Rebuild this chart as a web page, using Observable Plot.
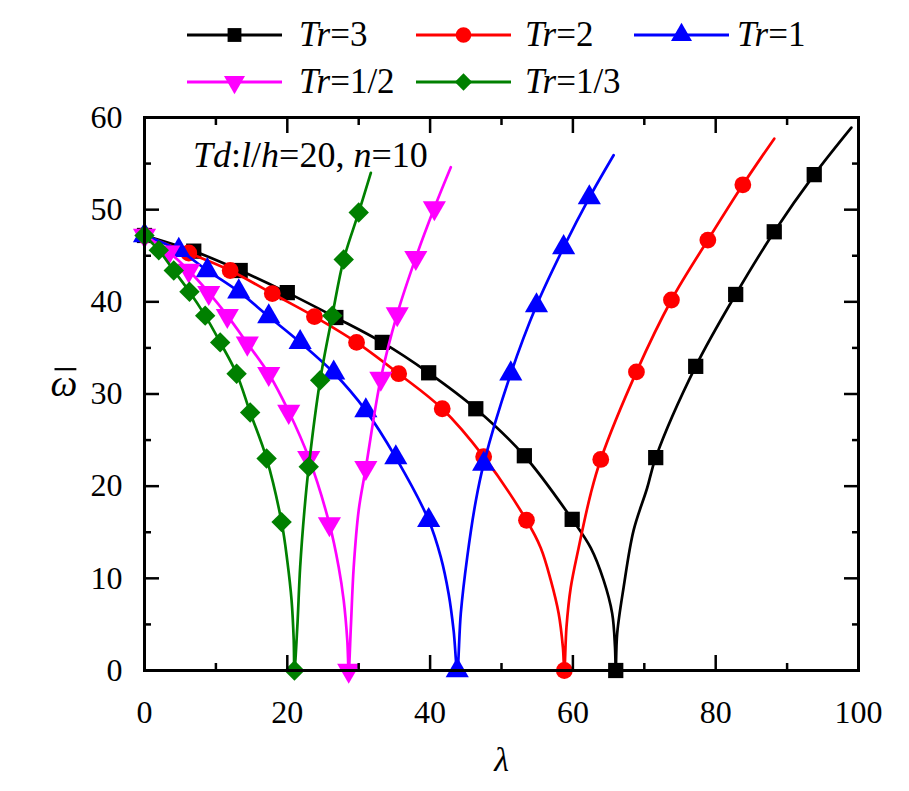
<!DOCTYPE html>
<html><head><meta charset="utf-8">
<script src="https://cdn.jsdelivr.net/npm/d3@7"></script>
<script src="https://cdn.jsdelivr.net/npm/@observablehq/plot@0.6"></script>
<style>
body{margin:0;background:#fff;font-family:"Liberation Serif","Times New Roman",Times,Tinos,"DejaVu Serif",serif;}
#wrap{width:909px;}
#legend{position:relative;width:909px;height:100px;}
.item{position:absolute;height:40px;}
.item svg{position:absolute;left:0;top:0;}
.item .lab{position:absolute;top:0;height:40px;line-height:40px;font-size:35px;white-space:nowrap;color:#000;}
#chart svg text{font-family:"Liberation Serif","Times New Roman",Times,Tinos,"DejaVu Serif",serif;}
</style></head><body><div id="wrap"><div id="legend"></div><div id="chart"></div></div>
<script>
// ---- data ----
const seriesNames = ["3", "2", "1", "1/2", "1/3"];
const seriesColors = ["#000000", "#ff0000", "#0000ff", "#ff00ff", "#008000"];

// Tr=3 (markers)
const tr3Lambda = [0, 6.9, 13.4, 20.0, 26.8, 33.3, 39.8, 46.4, 53.2, 59.9, 66.0, 71.6, 77.2, 82.8, 88.2, 93.8];
const tr3Omega  = [47.2, 45.5, 43.4, 41.0, 38.3, 35.6, 32.3, 28.4, 23.3, 16.4, 0, 23.1, 33.0, 40.8, 47.6, 53.8];
// Tr=3 (extra curve points read between markers)
const tr3CurveLambda = [62.5, 64.3, 65.5, 65.9, 66.2, 67.1, 68.5, 70.4, 99.0];
const tr3CurveOmega  = [13.3, 9.8, 6.2, 2.5, 4.0, 9.0, 15.2, 19.8, 58.9];

// Tr=2
const tr2Lambda = [0, 6.2, 12.0, 17.9, 23.8, 29.7, 35.6, 41.7, 47.5, 53.5, 58.8, 63.9, 68.9, 73.8, 78.9, 83.8];
const tr2Omega  = [47.2, 45.3, 43.4, 40.9, 38.4, 35.6, 32.2, 28.4, 23.2, 16.3, 0, 22.9, 32.4, 40.2, 46.7, 52.7];
const tr2CurveLambda = [55.5, 56.9, 58.0, 58.6, 59.1, 59.7, 60.8, 62.5, 88.2];
const tr2CurveOmega  = [13.3, 9.8, 6.2, 2.5, 4.7, 9.0, 13.3, 19.2, 57.7];

// Tr=1
const tr1Lambda = [0, 4.8, 8.8, 13.2, 17.4, 21.8, 26.5, 31.0, 35.2, 39.8, 43.8, 47.5, 51.3, 54.9, 58.7, 62.3];
const tr1Omega  = [47.2, 45.6, 43.4, 41.1, 38.4, 35.6, 32.3, 28.2, 23.1, 16.3, 0, 22.4, 32.2, 39.6, 45.9, 51.3];
const tr1CurveLambda = [41.5, 42.6, 43.3, 44.3, 45.2, 46.4, 65.7];
const tr1CurveOmega  = [12.3, 8.3, 4.3, 6.2, 12.3, 18.4, 55.9];

// Tr=1/2
const tr12Lambda = [0, 3.4, 6.2, 9.0, 11.6, 14.4, 17.4, 20.2, 23.0, 25.9, 28.6, 31.0, 33.1, 35.4, 38.0, 40.6];
const tr12Omega  = [47.2, 45.4, 43.4, 41.0, 38.5, 35.5, 32.2, 28.1, 23.1, 15.9, 0, 22.0, 31.7, 38.7, 44.8, 50.2];
const tr12CurveLambda = [27.2, 27.9, 28.4, 28.9, 29.3, 30.0, 42.9];
const tr12CurveOmega  = [11.2, 7.6, 3.3, 4.7, 11.2, 17.4, 54.6];

// Tr=1/3
const tr13Lambda = [0, 2.0, 4.1, 6.3, 8.5, 10.6, 12.9, 14.8, 17.1, 19.2, 21.0, 23.0, 24.6, 26.3, 27.9, 30.0];
const tr13Omega  = [47.2, 45.6, 43.4, 41.1, 38.5, 35.6, 32.2, 28.0, 23.0, 16.1, 0, 22.1, 31.5, 38.5, 44.6, 49.7];
const tr13CurveLambda = [20.0, 20.6, 20.9, 21.4, 21.8, 22.4, 31.7];
const tr13CurveOmega  = [11.9, 7.6, 3.3, 4.7, 11.2, 17.4, 54.0];

// axis ticks
const xMajor = [0, 20, 40, 60, 80, 100];
const xMinor = [10, 30, 50, 70, 90];
const yMajor = [0, 10, 20, 30, 40, 50, 60];
const yMinor = [5, 15, 25, 35, 45, 55];

const serif = "'Liberation Serif', 'Times New Roman', Times, Tinos, 'DejaVu Serif', serif";

// ---- build ----
const triangleDown = {
  draw(context, size) {
    const y = -Math.sqrt(size / (Math.sqrt(3) * 3));
    context.moveTo(0, -y * 2);
    context.lineTo(-Math.sqrt(3) * y, y);
    context.lineTo(Math.sqrt(3) * y, y);
    context.closePath();
  }
};
const symbols = ["square", "circle", "triangle", triangleDown, "diamond2"];
const symbolR = [8.6, 8.4, 8.6, 8.6, 9.2];
const markerLam = [tr3Lambda, tr2Lambda, tr1Lambda, tr12Lambda, tr13Lambda];
const markerOm = [tr3Omega, tr2Omega, tr1Omega, tr12Omega, tr13Omega];
const curveLam = [tr3CurveLambda, tr2CurveLambda, tr1CurveLambda, tr12CurveLambda, tr13CurveLambda];
const curveOm = [tr3CurveOmega, tr2CurveOmega, tr1CurveOmega, tr12CurveOmega, tr13CurveOmega];

const marks = [];
seriesNames.forEach((name, i) => {
  const pts = markerLam[i].map((l, j) => ({lambda: l, omega: markerOm[i][j]}));
  const curve = pts.concat(curveLam[i].map((l, j) => ({lambda: l, omega: curveOm[i][j]})))
    .sort((a, b) => a.lambda - b.lambda);
  marks.push(Plot.line(curve, {x: "lambda", y: "omega", stroke: seriesColors[i], strokeWidth: 2.7, curve: "catmull-rom"}));
  marks.push(Plot.dot(pts, {x: "lambda", y: "omega", symbol: symbols[i], r: symbolR[i], fill: seriesColors[i], stroke: "none"}));
});

const chart = Plot.plot({
  width: 909,
  height: 691,
  marginLeft: 144,
  marginRight: 51,
  marginTop: 17,
  marginBottom: 121,
  style: {fontFamily: serif, color: "#000", background: "#fff", overflow: "visible"},
  x: {domain: [0, 100]},
  y: {domain: [0, 60]},
  marks: [
    ...marks,
    Plot.frame({stroke: "#000", strokeWidth: 3}),
    Plot.axisX(xMajor, {anchor: "bottom", tickSize: -15, strokeWidth: 2.5, fill: "none", label: null}),
    Plot.axisX(xMinor, {anchor: "bottom", tickSize: -7, strokeWidth: 2.5, fill: "none", label: null}),
    Plot.axisX(xMajor, {anchor: "top", tickSize: -15, strokeWidth: 2.5, fill: "none", label: null}),
    Plot.axisX(xMinor, {anchor: "top", tickSize: -7, strokeWidth: 2.5, fill: "none", label: null}),
    Plot.axisY(yMajor, {anchor: "left", tickSize: -15, strokeWidth: 2.5, fill: "none", label: null}),
    Plot.axisY(yMinor, {anchor: "left", tickSize: -7, strokeWidth: 2.5, fill: "none", label: null}),
    Plot.axisY(yMajor, {anchor: "right", tickSize: -15, strokeWidth: 2.5, fill: "none", label: null}),
    Plot.axisY(yMinor, {anchor: "right", tickSize: -7, strokeWidth: 2.5, fill: "none", label: null}),
    Plot.axisX(xMajor, {anchor: "bottom", tickSize: 0, tickPadding: 30, fontSize: 32, label: null, tickFormat: d => String(d)}),
    Plot.axisY(yMajor, {anchor: "left", tickSize: 0, tickPadding: 22, fontSize: 32, label: null, tickFormat: d => String(d)}),
    Plot.text(["λ"], {frameAnchor: "bottom", dy: 100, text: d => d, fontSize: 34, fontStyle: "italic"}),
    Plot.text(["ω"], {frameAnchor: "left", dx: -94, dy: -10, text: d => d, fontSize: 38, fontStyle: "italic"})
  ]
});

const svg = d3.select(chart);

// annotation
const ann = svg.append("text").attr("x", 193).attr("y", 67)
  .attr("font-size", 36).attr("fill", "#000").attr("text-anchor", "start")
  .attr("font-family", serif);
[["Td", true], [":", false], ["l", true], ["/", false], ["h", true], ["=20, ", false], ["n", true], ["=10", false]]
  .forEach(([t, it]) => ann.append("tspan").attr("font-style", it ? "italic" : "normal").text(t));

document.getElementById("chart").appendChild(chart);

// overline for the omega axis title, placed in the same coordinate frame as its text
svg.selectAll("text").filter(function() { return this.textContent === "ω"; }).each(function() {
  const b = this.getBBox();
  d3.select(this.parentNode).append("path")
    .attr("transform", this.getAttribute("transform"))
    .attr("d", `M${b.x + 4},${b.y + 7}H${b.x + b.width - 1}`)
    .attr("stroke", "#000").attr("stroke-width", 2.2).attr("fill", "none");
});

// legend
const legendPos = [[187, 15], [416, 15], [634, 15], [187, 62], [416, 62]];
const legendTextX = [112, 109, 103, 112, 109];
const legend = d3.select("#legend");
seriesNames.forEach((name, i) => {
  const item = legend.append("div").attr("class", "item")
    .style("left", legendPos[i][0] + "px").style("top", legendPos[i][1] + "px");
  const s = item.append("svg").attr("width", 100).attr("height", 40).style("overflow", "visible");
  s.append("line").attr("x1", 0).attr("x2", 95).attr("y1", 20).attr("y2", 20)
    .attr("stroke", seriesColors[i]).attr("stroke-width", 2.8);
  const sym = typeof symbols[i] === "string"
    ? {square: d3.symbolSquare, circle: d3.symbolCircle, triangle: d3.symbolTriangle, diamond2: d3.symbolDiamond2}[symbols[i]]
    : symbols[i];
  s.append("path").attr("d", d3.symbol(sym, Math.PI * 7.8 * 7.8)())
    .attr("transform", "translate(47.5,20)").attr("fill", seriesColors[i]);
  const lab = item.append("div").attr("class", "lab").style("left", legendTextX[i] + "px");
  lab.append("i").text("Tr");
  lab.append("span").text("=" + name);
});
</script></body></html>
